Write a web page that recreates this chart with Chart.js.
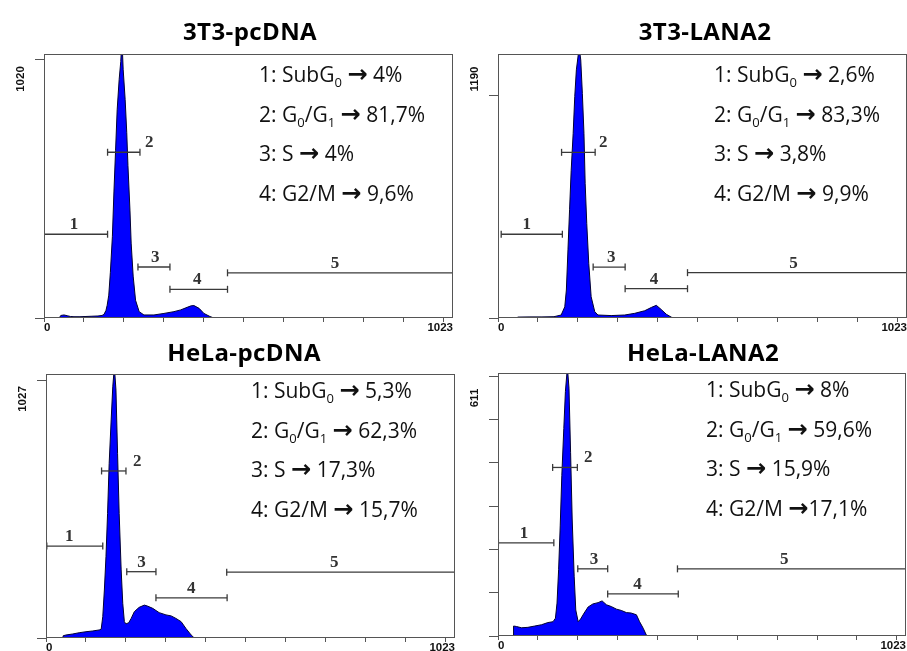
<!DOCTYPE html>
<html>
<head>
<meta charset="utf-8">
<script src="https://cdn.jsdelivr.net/npm/chart.js@4.4.0/dist/chart.umd.min.js"></script>
<style>
body { margin: 0; background: #fff; }
#wrap { position: relative; width: 907px; height: 651px; overflow: hidden; font-family: "Open Sans", sans-serif; }
canvas { position: absolute; }
.title { position: absolute; font-weight: bold; font-size: 24px; letter-spacing: 0.4px; line-height: 1; color: #000; white-space: nowrap; transform: translateX(-50%); }
.stats { position: absolute; font-size: 21px; line-height: 39.7px; color: #111; white-space: nowrap; }
.stats sub { font-size: 0.62em; line-height: 0; vertical-align: -0.35em; }
.arr { font-family: "DejaVu Sans", sans-serif; font-weight: bold; font-size: 1.15em; line-height: 0; }
</style>
</head>
<body>
<div id="wrap">
  <canvas id="c1" width="455" height="345" style="left:0;top:0"></canvas>
  <canvas id="c2" width="452" height="345" style="left:455px;top:0"></canvas>
  <canvas id="c3" width="455" height="306" style="left:0;top:345px"></canvas>
  <canvas id="c4" width="452" height="306" style="left:455px;top:345px"></canvas>
</div>
<script>
// x ticks (channels) shared by all four histograms
const xTicks = [0, 100, 200, 300, 400, 500, 600, 700, 800, 900, 1000];

// 3T3-pcDNA
const t3pcCh    = [38, 42, 50, 58, 66, 75, 90, 105, 120, 135, 145, 150, 155, 158, 162, 166, 171, 175, 179, 183, 188, 192, 195, 198, 203, 207, 210, 215, 218, 223, 229, 238, 250, 275, 300, 325, 342, 358, 368, 375, 388, 400, 415, 425];
const t3pcCount = [0, 10, 12, 9, 6, 5, 5, 6, 7, 8, 10, 14, 30, 50, 90, 180, 320, 500, 660, 820, 940, 1010, 1100, 980, 860, 730, 600, 425, 295, 165, 70, 25, 12, 12, 18, 25, 32, 42, 48, 49, 38, 18, 6, 0];
const t3pcStats = ['4%', '81,7%', '4%', '9,6%'];

// 3T3-LANA2
const t3laCh    = [46, 50, 80, 110, 140, 158, 167, 171, 175, 179, 183, 188, 192, 196, 203, 207, 211, 215, 218, 222, 227, 233, 242, 250, 283, 317, 342, 367, 384, 396, 408, 421, 434, 442];
const t3laCount = [0, 5, 6, 6, 7, 16, 60, 150, 365, 580, 790, 990, 1187, 1330, 1450, 1383, 1204, 990, 722, 507, 293, 114, 34, 16, 13, 16, 25, 39, 57, 68, 46, 20, 4, 0];
const t3laStats = ['2,6%', '83,3%', '3,8%', '9,9%'];

// HeLa-pcDNA
const hepcCh    = [42, 43, 50, 67, 83, 100, 117, 133, 138, 142, 146, 150, 154, 158, 163, 167, 171, 175, 179, 183, 188, 192, 196, 200, 207, 213, 221, 233, 246, 254, 267, 283, 300, 313, 325, 338, 350, 363, 371];
const hepcCount = [0, 9, 12, 16, 21, 25, 28, 32, 35, 85, 191, 324, 496, 695, 868, 1000, 1080, 987, 735, 496, 271, 138, 65, 56, 61, 78, 105, 122, 131, 127, 118, 101, 92, 88, 78, 65, 38, 12, 0];
const hepcStats = ['5,3%', '62,3%', '17,3%', '15,7%'];

// HeLa-LANA2
const helaCh    = [38, 39, 46, 59, 75, 92, 109, 125, 138, 144, 148, 152, 156, 160, 165, 169, 174, 178, 182, 186, 191, 195, 201, 207, 216, 226, 238, 251, 261, 272, 284, 297, 309, 322, 334, 347, 355, 364, 372, 376];
const helaCount = [0, 23, 22, 19, 20, 23, 26, 31, 33, 41, 76, 153, 254, 370, 479, 564, 620, 572, 424, 270, 138, 60, 33, 39, 53, 67, 74, 77, 81, 72, 68, 62, 59, 54, 53, 49, 33, 18, 2, 0];
const helaStats = ['8%', '59,6%', '15,9%', '17,1%'];

// gate markers 1..5: start / end channel, height (counts), label channel
const t3pcGateStart = [0, 159, 235, 315, 459];
const t3pcGateEnd   = [159, 240, 315, 459, 1023];
const t3pcGateLevel = [330, 653, 201, 113, 178];
const t3pcGateLabel = [75, 263, 278, 383, 728];

const t3laGateStart = [8, 159, 238, 318, 474];
const t3laGateEnd   = [161, 243, 318, 474, 1023];
const t3laGateLevel = [449, 888, 273, 157, 243];
const t3laGateLabel = [72, 263, 283, 390, 739];

const hepcGateStart = [2, 139, 202, 275, 452];
const hepcGateEnd   = [142, 200, 275, 453, 1023];
const hepcGateLevel = [366, 665, 264, 160, 262];
const hepcGateLabel = [58, 228, 239, 363, 721];

const helaGateStart = [1, 137, 200, 275, 450];
const helaGateEnd   = [140, 199, 275, 452, 1023];
const helaGateLevel = [215, 389, 155, 97, 155];
const helaGateLabel = [65, 226, 241, 350, 718];

const statNames = ['1: SubG<sub>0</sub>', '2: G<sub>0</sub>/G<sub>1</sub>', '3: S', '4: G2/M'];

const panels = [
  { id: 'c1', title: '3T3-pcDNA', ymax: 1040, yTicks: [0, 1020], yLabel: '1020',
    ch: t3pcCh, count: t3pcCount, stats: t3pcStats,
    gs: t3pcGateStart, ge: t3pcGateEnd, gl: t3pcGateLevel, glab: t3pcGateLabel,
    pad: { left: 0, right: 2, top: 54, bottom: 0 }, yW: 44, xH: 27,
    titleX: 250, titleY: 19, statX: 259, statY: 55, left: 0, top: 0 },
  { id: 'c2', title: '3T3-LANA2', ymax: 1415, yTicks: [0, 1190], yLabel: '1190',
    ch: t3laCh, count: t3laCount, stats: t3laStats,
    gs: t3laGateStart, ge: t3laGateEnd, gl: t3laGateLevel, glab: t3laGateLabel,
    pad: { left: 0, right: 0, top: 54, bottom: 0 }, yW: 43, xH: 27,
    titleX: 705, titleY: 19, statX: 714, statY: 55, left: 455, top: 0 },
  { id: 'c3', title: 'HeLa-pcDNA', ymax: 1051, yTicks: [0, 1027], yLabel: '1027',
    ch: hepcCh, count: hepcCount, stats: hepcStats,
    gs: hepcGateStart, ge: hepcGateEnd, gl: hepcGateLevel, glab: hepcGateLabel,
    pad: { left: 0, right: 0, top: 29, bottom: 0 }, yW: 46, xH: 13,
    titleX: 244, titleY: 340, statX: 251, statY: 371, left: 0, top: 345 },
  { id: 'c4', title: 'HeLa-LANA2', ymax: 607, yTicks: [0, 100, 200, 300, 400, 500, 600], yLabel: '611',
    ch: helaCh, count: helaCount, stats: helaStats,
    gs: helaGateStart, ge: helaGateEnd, gl: helaGateLevel, glab: helaGateLabel,
    pad: { left: 0, right: 1, top: 28, bottom: 0 }, yW: 43, xH: 15,
    titleX: 703, titleY: 340, statX: 706, statY: 370, left: 455, top: 345 }
];

const framePlugin = {
  id: 'frame',
  afterDraw(chart, args, opts) {
    const { ctx, chartArea: a, scales: { x, y } } = chart;
    ctx.save();
    ctx.strokeStyle = '#555';
    ctx.lineWidth = 1;
    ctx.strokeRect(a.left + 0.5, a.top + 0.5, a.right - a.left - 1, a.bottom - a.top - 1);

    // gate numbers
    ctx.fillStyle = '#333';
    ctx.font = 'bold 17px "Liberation Serif", serif';
    ctx.textAlign = 'center';
    ctx.textBaseline = 'alphabetic';
    opts.glab.forEach((lx, i) => {
      ctx.fillText(String(i + 1), x.getPixelForValue(lx), y.getPixelForValue(opts.gl[i]) - 5);
    });

    // axis labels
    ctx.fillStyle = '#111';
    ctx.font = 'bold 11.5px "Liberation Sans", Arial, sans-serif';
    ctx.textBaseline = 'middle';
    ctx.textAlign = 'left';
    ctx.fillText('0', a.left, a.bottom + 10);
    ctx.textAlign = 'right';
    ctx.fillText('1023', a.right, a.bottom + 10);

    ctx.translate(a.left - 23, a.top + 25);
    ctx.rotate(-Math.PI / 2);
    ctx.textAlign = 'center';
    ctx.fillText(opts.yLabel, 0, 0);
    ctx.restore();
  }
};

const wrap = document.getElementById('wrap');

panels.forEach(p => {
  const datasets = [{
    data: p.ch.map((c, i) => ({ x: c, y: p.count[i] })),
    borderColor: '#000033',
    borderWidth: 1,
    backgroundColor: '#0000ff',
    fill: 'origin',
    pointRadius: 0,
    tension: 0,
    order: 1
  }];
  p.gs.forEach((s, i) => {
    datasets.push({
      data: [{ x: s, y: p.gl[i] }, { x: p.ge[i], y: p.gl[i] }],
      borderColor: '#3a3a3a',
      borderWidth: 1.3,
      pointStyle: 'line',
      pointRotation: 90,
      pointRadius: 3.5,
      pointBorderColor: '#3a3a3a',
      pointBorderWidth: 1.3,
      fill: false,
      order: 0
    });
  });

  new Chart(document.getElementById(p.id), {
    type: 'line',
    data: { datasets },
    options: {
      responsive: false,
      animation: false,
      layout: { padding: p.pad, autoPadding: false },
      plugins: {
        legend: { display: false },
        tooltip: { enabled: false },
        frame: { glab: p.glab, gl: p.gl, yLabel: p.yLabel }
      },
      scales: {
        x: {
          type: 'linear', min: 0, max: 1023,
          afterBuildTicks: s => { s.ticks = xTicks.map(v => ({ value: v })); },
          afterFit: s => { s.height = p.xH; },
          ticks: { display: false },
          grid: { drawOnChartArea: false, drawTicks: true, tickLength: 4, color: '#555' },
          border: { display: false }
        },
        y: {
          min: 0, max: p.ymax,
          afterBuildTicks: s => { s.ticks = p.yTicks.map(v => ({ value: v })); },
          afterFit: s => { s.width = p.yW; },
          ticks: { display: false },
          grid: { drawOnChartArea: false, drawTicks: true, tickLength: 9, color: '#555' },
          border: { display: false }
        }
      }
    },
    plugins: [framePlugin]
  });

  const t = document.createElement('div');
  t.className = 'title';
  t.style.left = p.titleX + 'px';
  t.style.top = p.titleY + 'px';
  t.textContent = p.title;
  wrap.appendChild(t);

  const st = document.createElement('div');
  st.className = 'stats';
  st.style.left = p.statX + 'px';
  st.style.top = p.statY + 'px';
  st.innerHTML = statNames.map((n, i) => {
    const gap = (p.id === 'c4' && i === 3) ? '' : ' ';
    return n + ' <span class="arr">→</span>' + gap + p.stats[i];
  }).join('<br>');
  wrap.appendChild(st);
});
</script>
</body>
</html>
